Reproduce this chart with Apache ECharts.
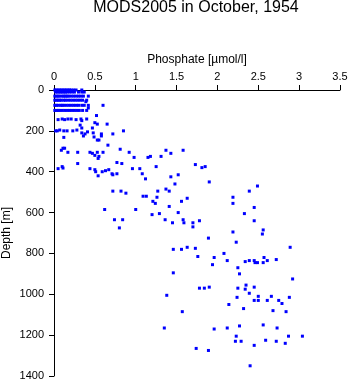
<!DOCTYPE html>
<html>
<head>
<meta charset="utf-8">
<script src="https://cdn.jsdelivr.net/npm/echarts@6/dist/echarts.min.js"></script>
<style>
  html, body { margin: 0; padding: 0; background: #fff; }
  #chart { width: 350px; height: 384px; }
</style>
</head>
<body>
<div id="chart"></div>
<script>
// Phosphate casts, October 1954: dense near-surface standard depths
const surfaceDepths = [0, 10, 30, 50, 75, 100];
const surfacePhosphate = [
  [0.01, 0.03, 0.05, 0.07, 0.09, 0.11, 0.13, 0.15, 0.17, 0.19, 0.21, 0.24, 0.27, 0.34],
  [0.02, 0.04, 0.06, 0.08, 0.10, 0.12, 0.14, 0.16, 0.19, 0.22, 0.25, 0.30, 0.34, 0.37],
  [0.01, 0.03, 0.05, 0.07, 0.10, 0.12, 0.14, 0.16, 0.18, 0.21, 0.24, 0.27, 0.30, 0.33, 0.36, 0.42],
  [0.01, 0.03, 0.05, 0.07, 0.09, 0.12, 0.14, 0.17, 0.20, 0.23, 0.26, 0.29, 0.32, 0.35, 0.40],
  [0.01, 0.03, 0.05, 0.08, 0.10, 0.12, 0.15, 0.18, 0.21, 0.24, 0.27, 0.30, 0.34, 0.37, 0.42, 0.60],
  [0.01, 0.03, 0.05, 0.07, 0.10, 0.13, 0.16, 0.19, 0.22, 0.25, 0.28, 0.31, 0.35, 0.40]
];

// [phosphate µmol/l, depth m]
const extraShallow = [[0.42, 88], [0.39, 57]];

const upperLayer = [
  [0.52, 125], [0.05, 145], [0.10, 142], [0.13, 145], [0.17, 142], [0.21, 142], [0.27, 145], [0.33, 142], [0.34, 150], [0.40, 142],
  [0.32, 172], [0.34, 186], [0.50, 160], [0.53, 167], [0.65, 167], [0.47, 186],
  [0.02, 200], [0.04, 200], [0.07, 196], [0.12, 200], [0.16, 200], [0.23, 200], [0.28, 196],
  [0.34, 210], [0.36, 225], [0.38, 215], [0.41, 205], [0.48, 210], [0.49, 230], [0.53, 245], [0.55, 245],
  [0.58, 215], [0.58, 225], [0.72, 215], [0.85, 200], [0.12, 232],
  [0.13, 285], [0.11, 285], [0.09, 295], [0.17, 305], [0.29, 305], [0.44, 305], [0.47, 310], [0.53, 305],
  [0.50, 320], [0.55, 325], [0.54, 335], [0.60, 305], [0.66, 270], [0.81, 290], [0.92, 305],
  [0.29, 360], [0.10, 375], [0.11, 382], [0.05, 385], [0.44, 385], [0.51, 400], [0.50, 390], [0.59, 400],
  [0.63, 395], [0.67, 390], [0.71, 410], [0.72, 415], [0.77, 410], [0.54, 420], [0.77, 355], [0.83, 360],
  [0.98, 330], [1.15, 330], [0.96, 385], [1.05, 385], [1.18, 325], [1.37, 295], [1.43, 310], [1.58, 295],
  [1.31, 325], [1.25, 375], [1.73, 365], [1.81, 380], [1.85, 375]
];

const middleLayer = [
  [1.08, 410], [1.12, 435], [1.43, 425], [1.52, 415], [1.90, 450], [1.48, 460], [1.37, 485], [1.41, 495],
  [0.72, 495], [0.82, 495], [0.88, 505], [1.09, 520], [1.13, 520], [1.26, 525], [1.27, 495], [1.21, 545],
  [1.24, 555], [1.56, 545], [1.63, 530], [2.19, 525], [2.19, 555], [2.39, 495], [2.49, 470],
  [0.62, 585], [1.00, 585], [0.74, 635], [0.84, 635], [0.80, 675], [1.20, 610], [1.29, 605], [1.36, 635],
  [1.41, 570], [1.45, 650], [1.52, 600], [1.58, 635], [1.59, 650], [1.70, 650], [1.70, 670], [1.78, 640],
  [2.45, 575], [2.33, 605], [2.45, 640], [2.56, 685], [2.55, 705], [2.19, 695], [1.89, 725], [2.23, 745],
  [1.46, 780], [1.56, 780], [1.63, 770], [1.73, 775], [2.89, 770]
];

const deepLayer = [
  [1.76, 815], [2.08, 800], [1.96, 820], [1.94, 855], [2.12, 835], [2.34, 840], [2.39, 835], [2.45, 835],
  [2.46, 845], [2.49, 845], [2.56, 845], [2.57, 820], [2.61, 835], [2.72, 830], [2.25, 870], [2.27, 900],
  [2.92, 925], [1.46, 895],
  [1.78, 970], [1.84, 970], [1.90, 965], [2.25, 970], [2.34, 975], [2.35, 955], [2.45, 965], [2.39, 995],
  [2.24, 1015], [2.50, 1010], [2.45, 1030], [2.50, 1030], [2.61, 1030], [2.66, 1010], [2.75, 1030],
  [2.79, 1045], [2.88, 1015], [2.14, 1050], [1.38, 1005], [1.57, 1085],
  [2.32, 1070], [2.68, 1080], [2.84, 1085], [1.35, 1165], [1.96, 1170], [2.12, 1165], [2.27, 1155],
  [2.56, 1150], [2.73, 1165], [2.23, 1205], [2.22, 1230], [2.29, 1230], [2.45, 1250], [2.59, 1225],
  [2.72, 1230], [2.83, 1240], [2.87, 1205], [3.04, 1205], [1.74, 1265], [1.89, 1275], [2.40, 1350]
];

const phosphateTicks = { min: 0, max: 3.5, step: 0.5 };
const depthTicks = { min: 0, max: 1400, step: 200 };

const points = [];
surfaceDepths.forEach((d, i) => surfacePhosphate[i].forEach(p => points.push([p, d])));
points.push(...extraShallow, ...upperLayer, ...middleLayer, ...deepLayer);

const font = 'Liberation Sans, Arial, Helvetica, sans-serif';
const chart = echarts.init(document.getElementById('chart'), null, { renderer: 'canvas' });
chart.setOption({
  animation: false,
  backgroundColor: '#ffffff',
  title: {
    text: 'MODS2005 in October, 1954',
    left: 196,
    textAlign: 'center',
    top: 0,
    padding: 0,
    textStyle: { fontFamily: font, fontSize: 16, fontWeight: 'normal', color: '#000' }
  },
  grid: { left: 54, top: 90, right: 10, bottom: 8, containLabel: false, outerBoundsMode: 'none' },
  xAxis: {
    type: 'value',
    position: 'top',
    min: phosphateTicks.min,
    max: phosphateTicks.max,
    interval: phosphateTicks.step,
    name: 'Phosphate [\u00b5mol/l]',
    nameLocation: 'middle',
    nameGap: 24,
    nameMoveOverlap: false,
    nameTextStyle: { fontFamily: font, fontSize: 12, color: '#000' },
    axisLine: { show: true, onZero: false, lineStyle: { color: '#000', width: 1 } },
    axisTick: { show: true, length: 5, lineStyle: { color: '#000' } },
    axisLabel: { fontFamily: font, fontSize: 11, color: '#000', margin: 8, formatter: v => String(v) },
    splitLine: { show: false }
  },
  yAxis: {
    type: 'value',
    inverse: true,
    min: depthTicks.min,
    max: depthTicks.max,
    interval: depthTicks.step,
    name: 'Depth [m]',
    nameLocation: 'middle',
    nameGap: 41,
    nameMoveOverlap: false,
    nameTextStyle: { fontFamily: font, fontSize: 12, color: '#000' },
    axisLine: { show: true, onZero: false, lineStyle: { color: '#000', width: 1 } },
    axisTick: { show: true, length: 5, lineStyle: { color: '#000' } },
    axisLabel: { fontFamily: font, fontSize: 11, color: '#000', margin: 10, formatter: v => String(v) },
    splitLine: { show: false }
  },
  series: [{
    type: 'scatter',
    data: points,
    symbol: 'rect',
    symbolSize: 3,
    itemStyle: { color: '#0000ff', opacity: 1 },
    clip: false
  }]
});
</script>
</body>
</html>
